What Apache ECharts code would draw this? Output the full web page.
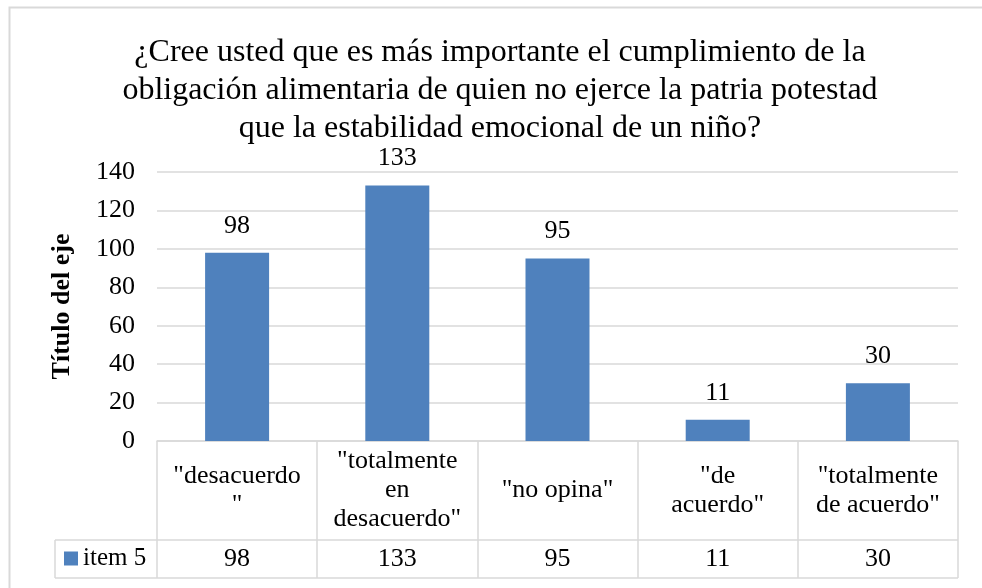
<!DOCTYPE html>
<html>
<head>
<meta charset="utf-8">
<script src="https://cdn.jsdelivr.net/npm/echarts@6/dist/echarts.min.js"></script>
<style>html,body{margin:0;padding:0;background:#fff}#c{width:982px;height:588px}</style>
</head>
<body>
<div id="c"></div>
<script>
const titleText = "¿Cree usted que es más importante el cumplimiento de la\nobligación alimentaria de quien no ejerce la patria potestad\nque la estabilidad emocional de un niño?";
const categories = ['"desacuerdo\n"', '"totalmente\nen\ndesacuerdo"', '"no opina"', '"de\nacuerdo"', '"totalmente\nde acuerdo"'];
const seriesName = 'item 5';
const values = [98, 133, 95, 11, 30];
const yTicks = { min: 0, max: 140, interval: 20 };
const axisTitle = 'Título del eje';

const FONT = '"Liberation Serif", "Times New Roman", serif';
const GRID = { left: 157, right: 24, top: 172, bottom: 147 };
const W = 982, H = 588;
const tableTop = H - GRID.bottom;      // 441
const rowSplit = tableTop + 99;         // 540
const tableBottom = tableTop + 137;     // 578
const legendLeft = 55;
const lineColor = '#d9d9d9';

const chart = echarts.init(document.getElementById('c'), null, { renderer: 'canvas' });
const option = {
  backgroundColor: '#fff',
  animation: false,
  title: {
    text: titleText,
    left: 495, top: 29, textAlign: 'center',
    textStyle: { fontFamily: FONT, fontSize: 32, fontWeight: 'normal', color: '#000', lineHeight: 38 }
  },
  legend: {
    data: [seriesName],
    left: 64, top: 546,
    icon: 'rect', itemWidth: 14, itemHeight: 14, itemGap: 0,
    textStyle: { fontFamily: FONT, fontSize: 25, color: '#000', padding: [0,0,0,0] },
    padding: 0
  },
  grid: { left: GRID.left, right: GRID.right, top: GRID.top, bottom: GRID.bottom, containLabel: false },
  xAxis: [{
    type: 'category', data: categories, position: 'bottom',
    axisLine: { show: true, lineStyle: { color: lineColor, width: 1.5 } },
    axisTick: { show: true, alignWithLabel: false, interval: 0, length: tableBottom - tableTop, lineStyle: { color: lineColor, width: 1.5 } },
    axisLabel: { interval: 0, margin: 49.5, verticalAlign: 'middle', fontFamily: FONT, fontSize: 26, lineHeight: 29, color: '#000', align: 'center' },
    splitLine: { show: false }
  }, {
    type: 'category', data: categories, position: 'bottom',
    axisLine: { show: false }, axisTick: { show: false },
    axisLabel: { interval: 0, margin: 118, verticalAlign: 'middle', fontFamily: FONT, fontSize: 26, color: '#000',
      formatter: (v, i) => String(values[i]) }
  }],
  yAxis: {
    type: 'value', min: yTicks.min, max: yTicks.max, interval: yTicks.interval,
    name: axisTitle, nameLocation: 'middle', nameGap: 82, nameRotate: 90,
    nameTextStyle: { fontFamily: FONT, fontSize: 26, fontWeight: 'bold', color: '#000' },
    axisLine: { show: false }, axisTick: { show: false },
    axisLabel: { margin: 22, fontFamily: FONT, fontSize: 26, color: '#000' },
    splitLine: { lineStyle: { color: lineColor, width: 1.5 } }
  },
  series: [{
    name: seriesName, type: 'bar', data: values, barWidth: 64,
    itemStyle: { color: '#4f81bd' },
    label: { show: true, position: 'top', distance: 14, fontFamily: FONT, fontSize: 26, color: '#000' }
  }],
  graphic: []
};
chart.setOption(option);

const xEnd = W - GRID.right;
const ls = { stroke: lineColor, lineWidth: 1.5 };
chart.setOption({
  graphic: [
    { type: 'rect', shape: { x: 9.5, y: 7.5, width: 1100, height: 700 }, style: { fill: null, stroke: lineColor, lineWidth: 2 }, silent: true, z: -1 },
    { type: 'line', shape: { x1: legendLeft, y1: rowSplit, x2: xEnd, y2: rowSplit }, style: ls, silent: true },
    { type: 'line', shape: { x1: legendLeft, y1: tableBottom, x2: xEnd, y2: tableBottom }, style: ls, silent: true },
    { type: 'line', shape: { x1: legendLeft, y1: rowSplit, x2: legendLeft, y2: tableBottom }, style: ls, silent: true }
  ]
});
</script>
</body>
</html>
